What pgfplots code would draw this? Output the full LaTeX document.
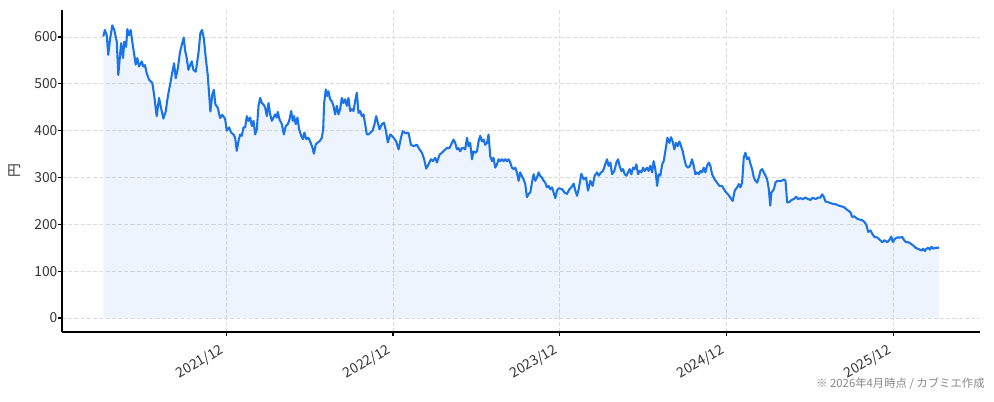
\documentclass[border=0pt]{standalone}
\usepackage{fontspec}
\setmainfont{Noto Sans CJK JP}
\usepackage{pgfplots}
\usepackage{pgfplotstable}
\pgfplotsset{compat=1.18}

\definecolor{lineblue}{HTML}{1A73E8}
\definecolor{gridgray}{HTML}{DDDDDD}
\definecolor{ticktext}{HTML}{333333}
\definecolor{notegray}{HTML}{888888}

% months after 2021/12, price (yen)
\pgfplotstableread{
m price
-8.83 601
-8.71 615
-8.58 604
-8.47 562
-8.35 594
-8.18 625
-8.04 615
-7.86 590
-7.75 519
-7.55 587
-7.41 555
-7.32 590
-7.19 579
-7.10 617
-6.98 604
-6.86 615
-6.71 583
-6.60 562
-6.50 541
-6.38 555
-6.26 537
-6.06 548
-5.95 537
-5.83 540
-5.71 523
-5.54 509
-5.30 502
-5.16 473
-4.99 431
-4.82 470
-4.68 449
-4.51 426
-4.34 441
-4.19 473
-4.03 498
-3.86 526
-3.74 544
-3.62 512
-3.47 533
-3.31 569
-3.19 583
-3.04 599
-2.95 572
-2.83 555
-2.71 530
-2.57 541
-2.47 548
-2.35 530
-2.18 526
-1.99 565
-1.85 608
-1.73 615
-1.60 597
-1.46 555
-1.32 519
-1.13 441
-0.99 477
-0.88 487
-0.77 456
-0.60 449
-0.43 427
-0.27 434
-0.07 425
0.05 400
0.22 407
0.36 396
0.53 392
0.65 385
0.77 357
0.89 378
1.01 392
1.13 389
1.25 407
1.37 407
1.49 431
1.61 421
1.73 428
1.85 410
1.97 421
2.09 392
2.21 403
2.33 453
2.45 470
2.57 459
2.69 456
2.81 449
2.93 431
3.05 459
3.17 435
3.29 421
3.41 428
3.53 435
3.64 428
3.72 440
3.84 424
4.01 414
4.15 392
4.29 410
4.44 414
4.56 424
4.68 442
4.80 421
4.89 431
5.01 414
5.13 428
5.25 403
5.40 389
5.52 382
5.63 396
5.76 382
5.92 385
6.07 375
6.21 364
6.31 351
6.45 371
6.60 375
6.74 378
6.88 385
6.98 403
7.05 459
7.17 488
7.27 474
7.36 484
7.48 467
7.60 463
7.72 453
7.84 435
7.96 453
8.08 435
8.20 446
8.32 470
8.44 459
8.56 467
8.68 453
8.80 470
8.92 442
9.04 446
9.16 442
9.28 463
9.40 481
9.52 438
9.64 442
9.76 431
9.88 435
10.00 414
10.12 392
10.24 392
10.38 396
10.53 400
10.67 414
10.79 431
10.91 417
11.03 403
11.20 414
11.35 417
11.49 400
11.63 375
11.80 392
12.04 385
12.23 377
12.40 360
12.57 385
12.71 399
12.88 395
13.12 395
13.29 370
13.48 367
13.72 370
13.91 360
14.08 353
14.24 339
14.39 319
14.55 328
14.73 339
14.87 335
15.04 342
15.16 332
15.35 349
15.52 353
15.68 358
15.88 363
16.06 363
16.24 374
16.35 381
16.47 374
16.60 360
16.71 363
16.83 356
16.96 363
17.07 363
17.19 360
17.32 385
17.43 367
17.55 374
17.68 339
17.79 356
17.91 353
18.04 356
18.15 377
18.27 389
18.40 377
18.51 381
18.63 370
18.76 374
18.87 392
18.99 346
19.12 335
19.23 342
19.35 321
19.47 328
19.59 339
19.71 335
19.83 339
19.95 335
20.07 339
20.19 335
20.31 339
20.43 332
20.55 321
20.67 318
20.79 321
20.91 311
21.03 293
21.15 311
21.27 303
21.39 296
21.51 286
21.63 258
21.75 265
21.87 268
21.99 289
22.11 307
22.23 293
22.35 300
22.47 311
22.59 303
22.71 300
22.83 293
22.95 289
23.07 279
23.19 282
23.31 275
23.43 279
23.55 268
23.67 256
23.79 272
23.91 277
24.15 275
24.34 268
24.51 265
24.68 275
24.82 279
24.99 287
25.11 272
25.23 261
25.35 275
25.54 308
25.71 296
25.88 300
26.02 272
26.19 293
26.35 282
26.50 304
26.67 311
26.79 304
26.96 311
27.10 314
27.22 325
27.39 339
27.50 325
27.63 332
27.75 307
27.91 314
28.06 332
28.18 339
28.29 325
28.42 314
28.54 318
28.66 307
28.78 304
28.90 311
29.02 318
29.14 307
29.26 321
29.37 318
29.50 328
29.62 307
29.73 314
29.86 311
29.98 321
30.09 314
30.27 321
30.38 314
30.50 325
30.63 311
30.74 335
30.86 318
30.99 282
31.10 307
31.22 304
31.35 328
31.46 335
31.58 356
31.73 385
31.87 374
31.99 386
32.11 377
32.23 360
32.35 374
32.47 367
32.59 377
32.71 367
32.83 356
32.95 339
33.07 325
33.22 321
33.36 325
33.50 339
33.62 325
33.74 307
33.86 311
33.98 307
34.10 314
34.22 311
34.34 321
34.46 311
34.58 325
34.70 332
34.82 325
34.94 307
35.13 296
35.30 289
35.47 282
35.66 282
35.90 270
36.09 264
36.26 257
36.42 250
36.57 272
36.74 279
36.86 286
36.98 279
37.10 289
37.22 343
37.34 353
37.46 339
37.58 343
37.70 329
37.82 318
37.94 300
38.06 293
38.18 289
38.30 300
38.42 314
38.54 318
38.66 311
38.78 304
38.90 296
39.02 275
39.12 240
39.21 268
39.38 275
39.50 289
39.62 293
39.74 293
39.93 293
40.10 296
40.22 293
40.34 247
40.46 247
40.65 252
40.81 254
40.99 259
41.13 254
41.29 256
41.46 254
41.65 257
41.85 254
42.01 252
42.18 257
42.37 254
42.57 257
42.73 257
42.85 264
42.97 259
43.09 249
43.33 247
43.58 244
43.81 243
44.05 240
44.41 237
44.65 231
44.89 226
45.01 216
45.18 217
45.37 212
45.56 210
45.73 209
45.90 205
46.04 198
46.16 184
46.33 187
46.45 180
46.62 173
46.81 172
47.00 167
47.17 162
47.34 166
47.53 162
47.70 167
47.82 174
47.94 162
48.08 169
48.25 172
48.44 172
48.61 173
48.73 167
48.87 162
49.04 162
49.21 159
49.40 155
49.57 150
49.73 148
49.88 146
50.00 144
50.12 148
50.24 143
50.36 148
50.48 150
50.60 146
50.72 152
50.84 148
51.01 150
51.13 150
51.27 150
}\pricedata

\begin{document}
\begin{tikzpicture}
\begin{axis}[
    name=ax,
    scale only axis,
    clip=false,
    width=663.4pt,
    height=232.7pt,
    xmin=-11.8, xmax=54.2,
    ymin=-29.9, ymax=657.7,
    axis lines*=left,
    axis line style={-, line width=0.8pt, black},
    tick align=outside,
    major tick length=2.6pt,
    tick style={line width=0.8pt, black},
    xtick={0,12,24,36,48},
    xticklabels={2021/12,2022/12,2023/12,2024/12,2025/12},
    ytick={0,100,...,600},
    /pgf/number format/assume math mode=true,
    ticklabel style={font=\fontsize{10}{12}\selectfont, text=ticktext},
    xticklabel style={rotate=30, anchor=north east, inner sep=2pt, xshift=-5pt},
    yticklabel style={inner sep=2pt, xshift=1.5pt},
    grid=major,
    major grid style={gridgray, line width=0.6pt, dash pattern=on 3pt off 1.5pt},
    ylabel={円},
    ylabel style={at={(axis description cs:-0.0512,0.5)}, anchor=center,
        font=\fontsize{10}{12}\selectfont, text=ticktext},
]
\addplot[draw=none, fill=lineblue, fill opacity=0.08] table[x=m, y=price] {\pricedata} \closedcycle;
\addplot[lineblue, line width=1.5pt, line join=round] table[x=m, y=price] {\pricedata};
\coordinate (bl) at (rel axis cs:-0.0675,-0.2143);
\coordinate (tr) at (rel axis cs:1.0153,1.0311);
\node[anchor=east, text=notegray, font=\fontsize{8.2}{10}\selectfont, inner sep=0pt]
    at (rel axis cs:1.0054,-0.1615) {※ 2026年4月時点 / カブミエ作成};
\end{axis}
\pgfresetboundingbox
\path (bl) rectangle (tr);
\end{tikzpicture}
\end{document}
